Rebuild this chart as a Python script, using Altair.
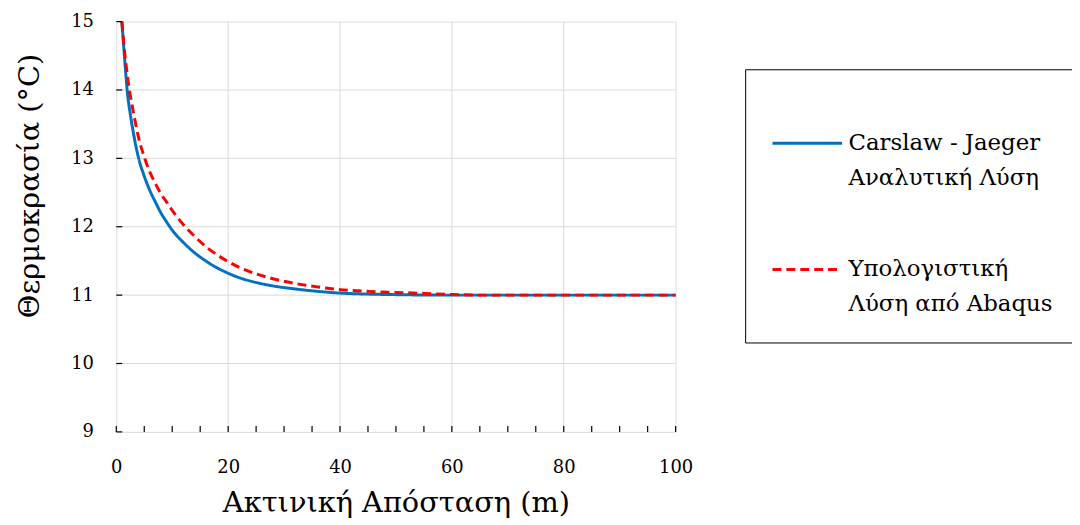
import altair as alt
import pandas as pd

# Carslaw - Jaeger analytical solution (blue)
blue_x = [1, 1.5, 2, 2.5, 3, 4, 5, 6, 7, 8, 9, 10, 12, 14, 16, 18, 20, 22, 25, 28, 32, 36, 40, 45, 50, 60, 70, 80, 90, 100]
blue_y = [15.0, 14.45, 13.95, 13.65, 13.4, 13.0, 12.74, 12.53, 12.36, 12.2, 12.07, 11.95, 11.77, 11.62, 11.5, 11.4, 11.32, 11.255, 11.185, 11.135, 11.09, 11.055, 11.03, 11.015, 11.007, 11.0, 11.0, 11.0, 11.0, 11.0]

# Abaqus numerical solution (red dashed)
red_x = [1, 1.5, 2, 2.5, 3, 4, 5, 6, 7, 8, 9, 10, 11, 12, 14, 16, 18, 20, 22, 25, 28, 32, 36, 40, 45, 50, 55, 60, 65, 70, 80, 90, 100]
red_y = [15.0, 14.55, 14.2, 13.92, 13.7, 13.3, 13.02, 12.8, 12.63, 12.48, 12.36, 12.24, 12.13, 12.03, 11.86, 11.71, 11.59, 11.49, 11.405, 11.31, 11.24, 11.17, 11.12, 11.08, 11.055, 11.04, 11.025, 11.01, 11.0, 11.0, 11.0, 11.0, 11.0]

series_names = ["Carslaw - Jaeger|Αναλυτική Λύση", "Υπολογιστική|Λύση από Abaqus"]
series_colors = ["#0070C0", "#FF0000"]
series_dash = [[1, 0], [9, 5]]

x_grid = [20, 40, 60, 80]
y_grid = [10, 11, 12, 13, 14]
x_ticks = list(range(0, 101, 5))
x_labels = [0, 20, 40, 60, 80, 100]
y_ticks = [9, 10, 11, 12, 13, 14, 15]

x_title = "Ακτινική Απόσταση (m)"
y_title = "Θερμοκρασία (°C)"

FONT = "DejaVu Serif"
W, H = 563, 413

df = pd.concat([
    pd.DataFrame({"x": blue_x, "y": blue_y, "s": series_names[0], "o": 0}),
    pd.DataFrame({"x": red_x, "y": red_y, "s": series_names[1], "o": 1}),
])

xs = alt.Scale(domain=[0, 100], nice=False)
ys = alt.Scale(domain=[9, 15], nice=False, zero=False)

x_axis = alt.Axis(
    values=x_labels, grid=False, ticks=False, domain=False, labelFlush=False,
    labelFont=FONT, labelFontSize=18, labelColor="black", labelPadding=27,
    title=x_title, titleFont=FONT, titleFontSize=29, titleFontWeight="normal",
    titleColor="black", titleY=80, titleBaseline="alphabetic",
)
y_axis = alt.Axis(
    values=y_ticks, grid=False, ticks=False, domain=False, labelFlush=False,
    labelFont=FONT, labelFontSize=18, labelColor="black", labelPadding=23,
    title=y_title, titleFont=FONT, titleFontSize=29, titleFontWeight="normal",
    titleColor="black", titleX=-87, titleY=165, titleBaseline="middle", titleAngle=-90,
)

xgrid = alt.Chart(pd.DataFrame({"v": x_grid})).mark_rule(color="#D9D9D9", strokeWidth=1).encode(
    x=alt.X("v:Q", scale=xs, axis=x_axis)
)
ygrid = alt.Chart(pd.DataFrame({"v": y_grid})).mark_rule(color="#D9D9D9", strokeWidth=1).encode(
    y=alt.Y("v:Q", scale=ys, axis=y_axis)
)
xtick = alt.Chart(pd.DataFrame({"v": x_ticks})).mark_rule(color="black", strokeWidth=1.2).encode(
    x=alt.X("v:Q", scale=xs, axis=x_axis),
    y=alt.value(H),
    y2=alt.value(H - 6),
)
ytick = alt.Chart(pd.DataFrame({"v": y_ticks})).mark_rule(color="black", strokeWidth=1.2).encode(
    y=alt.Y("v:Q", scale=ys, axis=y_axis),
    x=alt.value(0),
    x2=alt.value(6),
)

legend_props = dict(
    title=" ", titleFontSize=10, titlePadding=2,
    orient="none", legendX=633, legendY=48,
    symbolType="stroke", symbolSize=4900, symbolStrokeWidth=3,
    labelFont=FONT, labelFontSize=23, labelColor="black",
    labelExpr="split(datum.label, '|')",
    labelLimit=0, labelOffset=5, labelBaseline="middle",
    padding=26, rowPadding=43, strokeColor="black", fillColor="white",
)

lines = alt.Chart(df).mark_line(strokeWidth=3, interpolate="monotone").encode(
    x=alt.X("x:Q", scale=xs, axis=x_axis),
    y=alt.Y("y:Q", scale=ys, axis=y_axis),
    color=alt.Color("s:N", scale=alt.Scale(domain=series_names, range=series_colors),
                    legend=alt.Legend(**legend_props)),
    strokeDash=alt.StrokeDash("s:N", scale=alt.Scale(domain=series_names, range=series_dash),
                              legend=alt.Legend(**legend_props)),
    order="o:Q",
    detail="s:N",
)

chart = alt.layer(xgrid, ygrid, lines, xtick, ytick).properties(
    width=W, height=H,
    autosize=alt.AutoSizeParams(type="none"),
    padding={"left": 109, "top": 12, "right": 399, "bottom": 87},
).configure_view(stroke="black", strokeWidth=1.5).configure(
    background="white",
    font=FONT,
    style={"guide-label": {"lineHeight": 35}},
)

chart.save("out.html", embed_options={"renderer": "svg", "actions": False})
